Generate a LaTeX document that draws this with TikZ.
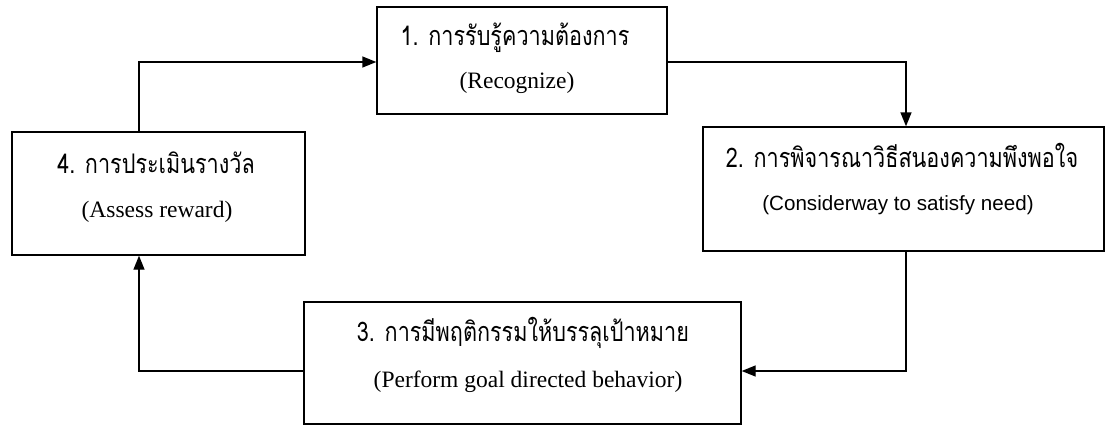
\documentclass[tikz,border=0pt]{standalone}
\usepackage{fontspec}
\setmainfont{Liberation Serif}
\newfontfamily\thaifont[Script=Thai,FakeStretch=0.8]{Loma}
\newfontfamily\altsans{Liberation Sans}
\usetikzlibrary{arrows.meta,calc}
\tikzset{
  box/.style={draw=black, line width=1.4pt, rectangle, inner sep=0pt},
  th/.style={font=\thaifont\fontsize{27}{30}\selectfont, inner sep=0pt},
  en/.style={font=\fontsize{23.5}{26}\selectfont, inner sep=0pt},
  ensans/.style={font=\altsans\fontsize{20.6}{24}\selectfont, inner sep=0pt},
  conn/.style={draw=black, line width=1.4pt, -{Triangle[length=14pt,width=11pt]}}
}
\begin{document}
\begin{tikzpicture}[x=1pt,y=-1pt]
\useasboundingbox (0,0) rectangle (1106,426);
% boxes
\node[box, minimum width=290pt, minimum height=107pt] (b1) at (522,60.5) {};
\node[box, minimum width=401pt, minimum height=124pt] (b2) at (903.5,189) {};
\node[box, minimum width=437pt, minimum height=122pt] (b3) at (522.5,363) {};
\node[box, minimum width=293pt, minimum height=123pt] (b4) at (158.5,193.5) {};
% texts
\node[th] (t1a) at (515,38) {1. การรับรู้ความต้องการ};
\node[en] (t1b) at (517,83) {(Recognize)};
\node[th] (t2a) at (902,155) {2. การพิจารณาวิธีสนองความพึงพอใจ};
\node[ensans] (t2b) at (898,205) {(Considerway to satisfy need)};
\node[th] (t3a) at (523,333) {3. การมีพฤติกรรมให้บรรลุเป้าหมาย};
\node[en] (t3b) at (528,382) {(Perform goal directed behavior)};
\node[th] (t4a) at (156,163) {4. การประเมินรางวัล};
\node[en] (t4b) at (157,212) {(Assess reward)};
% connector corners
\coordinate (c41) at (139,62);
\coordinate (c12) at (906,62);
\coordinate (c23) at (906,371);
\coordinate (c34) at (139,371);
% connectors
\draw[conn] (b4.north -| c41) -- (c41) -- (c41 -| b1.west);
\draw[conn] (c12 -| b1.east) -- (c12) -- (c12 |- b2.north);
\draw[conn] (c23 |- b2.south) -- (c23) -- (c23 -| b3.east);
\draw[conn] (c34 -| b3.west) -- (c34) -- (c34 |- b4.south);
\end{tikzpicture}
\end{document}
